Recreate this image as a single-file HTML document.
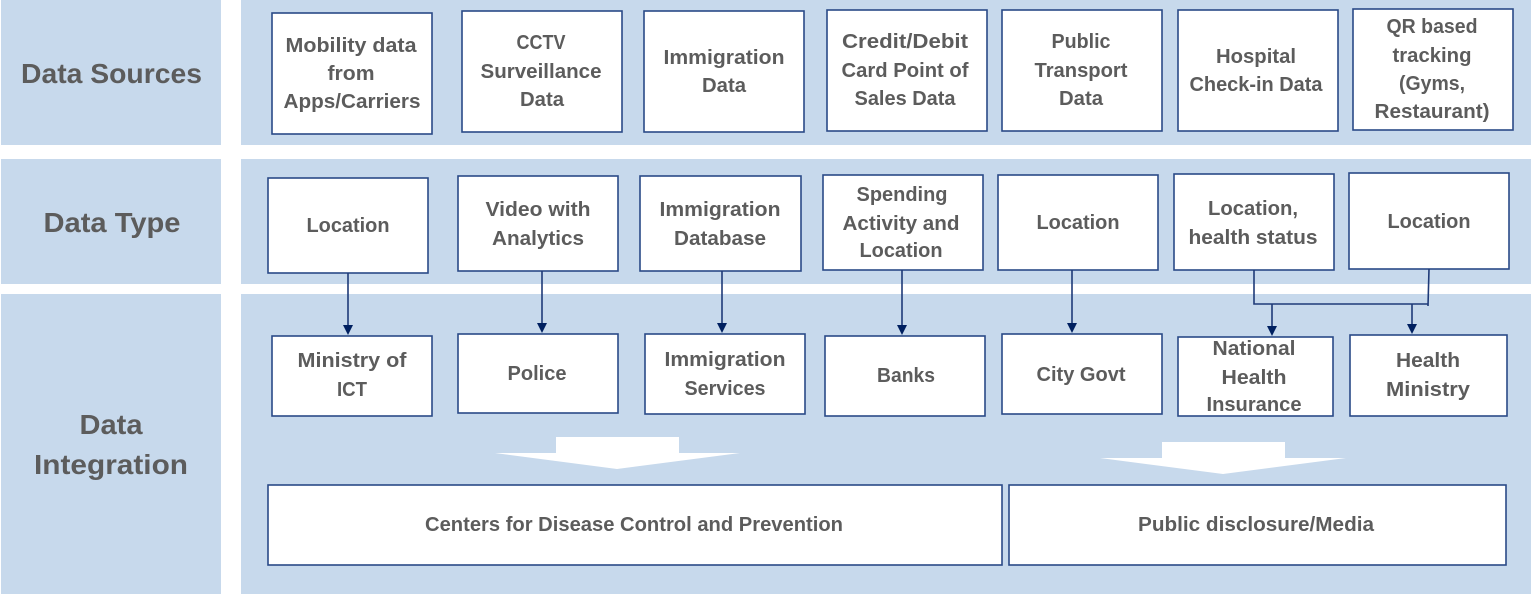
<!DOCTYPE html>
<html><head><meta charset="utf-8"><style>
html,body{margin:0;padding:0;background:#fff;width:1531px;height:594px;overflow:hidden}
svg{display:block}
.b{fill:#fff;stroke:#2a4a87;stroke-width:1.6}
text{font-family:"Liberation Sans",sans-serif;font-weight:bold;fill:#5c5c5c;font-size:20px;text-anchor:middle}
text.h{font-size:28px}
.c{stroke:#1f3a78;stroke-width:1.6;fill:none}
.a{fill:#002060}
</style></head><body>
<svg width="1531" height="594" viewBox="0 0 1531 594" xmlns="http://www.w3.org/2000/svg">
<defs><filter id="s" x="-5%" y="-5%" width="110%" height="110%"><feGaussianBlur stdDeviation="0.35"/></filter></defs>
<g fill="#c7d9ec">
<rect x="1" y="0" width="220" height="145"/><rect x="241" y="0" width="1290" height="145"/>
<rect x="1" y="159" width="220" height="125"/><rect x="241" y="159" width="1290" height="125"/>
<rect x="1" y="294" width="220" height="300"/><rect x="241" y="294" width="1290" height="300"/>
</g>
<g>
<rect class="b" x="272" y="13" width="160" height="121"/><rect class="b" x="462" y="11" width="160" height="121"/><rect class="b" x="644" y="11" width="160" height="121"/><rect class="b" x="827" y="10" width="160" height="121"/><rect class="b" x="1002" y="10" width="160" height="121"/><rect class="b" x="1178" y="10" width="160" height="121"/><rect class="b" x="1353" y="9" width="160" height="121"/>
<rect class="b" x="268" y="178" width="160" height="95"/><rect class="b" x="458" y="176" width="160" height="95"/><rect class="b" x="640" y="176" width="161" height="95"/><rect class="b" x="823" y="175" width="160" height="95"/><rect class="b" x="998" y="175" width="160" height="95"/><rect class="b" x="1174" y="174" width="160" height="96"/><rect class="b" x="1349" y="173" width="160" height="96"/>
<rect class="b" x="272" y="336" width="160" height="80"/><rect class="b" x="458" y="334" width="160" height="79"/><rect class="b" x="645" y="334" width="160" height="80"/><rect class="b" x="825" y="336" width="160" height="80"/><rect class="b" x="1002" y="334" width="160" height="80"/><rect class="b" x="1178" y="337" width="155" height="79"/><rect class="b" x="1350" y="335" width="157" height="81"/>
<rect class="b" x="268" y="485" width="734" height="80"/><rect class="b" x="1009" y="485" width="497" height="80"/>
</g>
<path class="c" d="M348 273V327M542 271V325M722 271V325M902 270V327M1072 270V325"/>
<path class="c" d="M1254 270V304H1428M1429 269L1428 306M1272 304V327M1412 304V325"/>
<g class="a">
<path d="M343 325h10l-5 10zM537 323h10l-5 10zM717 323h10l-5 10zM897 325h10l-5 10zM1067 323h10l-5 10zM1267 326h10l-5 10zM1407 324h10l-5 10z"/>
</g>
<path fill="#fff" d="M556 437H679V453H740L617 469L495 453H556Z"/>
<path fill="#fff" d="M1162 442H1285V458H1346L1223 474L1100 458H1162Z"/>
<g filter="url(#s)">
<text class="h" x="111.500" y="83" textLength="181" lengthAdjust="spacingAndGlyphs">Data Sources</text>
<text class="h" x="112" y="232" textLength="137" lengthAdjust="spacingAndGlyphs">Data Type</text>
<text class="h" x="111" y="434" textLength="63" lengthAdjust="spacingAndGlyphs">Data</text>
<text class="h" x="111" y="474" textLength="154" lengthAdjust="spacingAndGlyphs">Integration</text>

<text x="351" y="52" textLength="131" lengthAdjust="spacingAndGlyphs">Mobility data</text>
<text x="351" y="80" textLength="47" lengthAdjust="spacingAndGlyphs">from</text>
<text x="352" y="108" textLength="137" lengthAdjust="spacingAndGlyphs">Apps/Carriers</text>
<text x="541" y="49" textLength="49" lengthAdjust="spacingAndGlyphs">CCTV</text>
<text x="541" y="78" textLength="121" lengthAdjust="spacingAndGlyphs">Surveillance</text>
<text x="542" y="106" textLength="44" lengthAdjust="spacingAndGlyphs">Data</text>
<text x="724" y="64" textLength="121" lengthAdjust="spacingAndGlyphs">Immigration</text>
<text x="724" y="92" textLength="44" lengthAdjust="spacingAndGlyphs">Data</text>
<text x="905" y="48" textLength="126" lengthAdjust="spacingAndGlyphs">Credit/Debit</text>
<text x="905" y="77" textLength="127" lengthAdjust="spacingAndGlyphs">Card Point of</text>
<text x="905" y="105" textLength="101" lengthAdjust="spacingAndGlyphs">Sales Data</text>
<text x="1081" y="48" textLength="59" lengthAdjust="spacingAndGlyphs">Public</text>
<text x="1081" y="77" textLength="93" lengthAdjust="spacingAndGlyphs">Transport</text>
<text x="1081" y="105" textLength="44" lengthAdjust="spacingAndGlyphs">Data</text>
<text x="1256" y="63" textLength="80" lengthAdjust="spacingAndGlyphs">Hospital</text>
<text x="1256" y="91" textLength="133" lengthAdjust="spacingAndGlyphs">Check-in Data</text>
<text x="1432" y="33" textLength="91" lengthAdjust="spacingAndGlyphs">QR based</text>
<text x="1432" y="62" textLength="79" lengthAdjust="spacingAndGlyphs">tracking</text>
<text x="1432" y="90" textLength="66" lengthAdjust="spacingAndGlyphs">(Gyms,</text>
<text x="1432" y="118" textLength="115" lengthAdjust="spacingAndGlyphs">Restaurant)</text>

<text x="348" y="232" textLength="83" lengthAdjust="spacingAndGlyphs">Location</text>
<text x="538" y="216" textLength="105" lengthAdjust="spacingAndGlyphs">Video with</text>
<text x="538" y="245" textLength="92" lengthAdjust="spacingAndGlyphs">Analytics</text>
<text x="720" y="216" textLength="121" lengthAdjust="spacingAndGlyphs">Immigration</text>
<text x="720" y="245" textLength="92" lengthAdjust="spacingAndGlyphs">Database</text>
<text x="902" y="201" textLength="91" lengthAdjust="spacingAndGlyphs">Spending</text>
<text x="901" y="230" textLength="117" lengthAdjust="spacingAndGlyphs">Activity and</text>
<text x="901" y="257" textLength="83" lengthAdjust="spacingAndGlyphs">Location</text>
<text x="1078" y="229" textLength="83" lengthAdjust="spacingAndGlyphs">Location</text>
<text x="1253" y="215" textLength="90" lengthAdjust="spacingAndGlyphs">Location,</text>
<text x="1253" y="244" textLength="129" lengthAdjust="spacingAndGlyphs">health status</text>
<text x="1429" y="228" textLength="83" lengthAdjust="spacingAndGlyphs">Location</text>

<text x="352" y="367" textLength="109" lengthAdjust="spacingAndGlyphs">Ministry of</text>
<text x="352" y="396" textLength="30" lengthAdjust="spacingAndGlyphs">ICT</text>
<text x="537" y="380" textLength="59" lengthAdjust="spacingAndGlyphs">Police</text>
<text x="725" y="366" textLength="121" lengthAdjust="spacingAndGlyphs">Immigration</text>
<text x="725" y="395" textLength="81" lengthAdjust="spacingAndGlyphs">Services</text>
<text x="906" y="382" textLength="58" lengthAdjust="spacingAndGlyphs">Banks</text>
<text x="1081" y="381" textLength="89" lengthAdjust="spacingAndGlyphs">City Govt</text>
<text x="1254" y="355" textLength="83" lengthAdjust="spacingAndGlyphs">National</text>
<text x="1254" y="384" textLength="65" lengthAdjust="spacingAndGlyphs">Health</text>
<text x="1254" y="411" textLength="95" lengthAdjust="spacingAndGlyphs">Insurance</text>
<text x="1428" y="367" textLength="64" lengthAdjust="spacingAndGlyphs">Health</text>
<text x="1428" y="396" textLength="84" lengthAdjust="spacingAndGlyphs">Ministry</text>

<text x="634" y="531" textLength="418" lengthAdjust="spacingAndGlyphs">Centers for Disease Control and Prevention</text>
<text x="1256" y="531" textLength="236" lengthAdjust="spacingAndGlyphs">Public disclosure/Media</text>
</g>
</svg>
</body></html>
